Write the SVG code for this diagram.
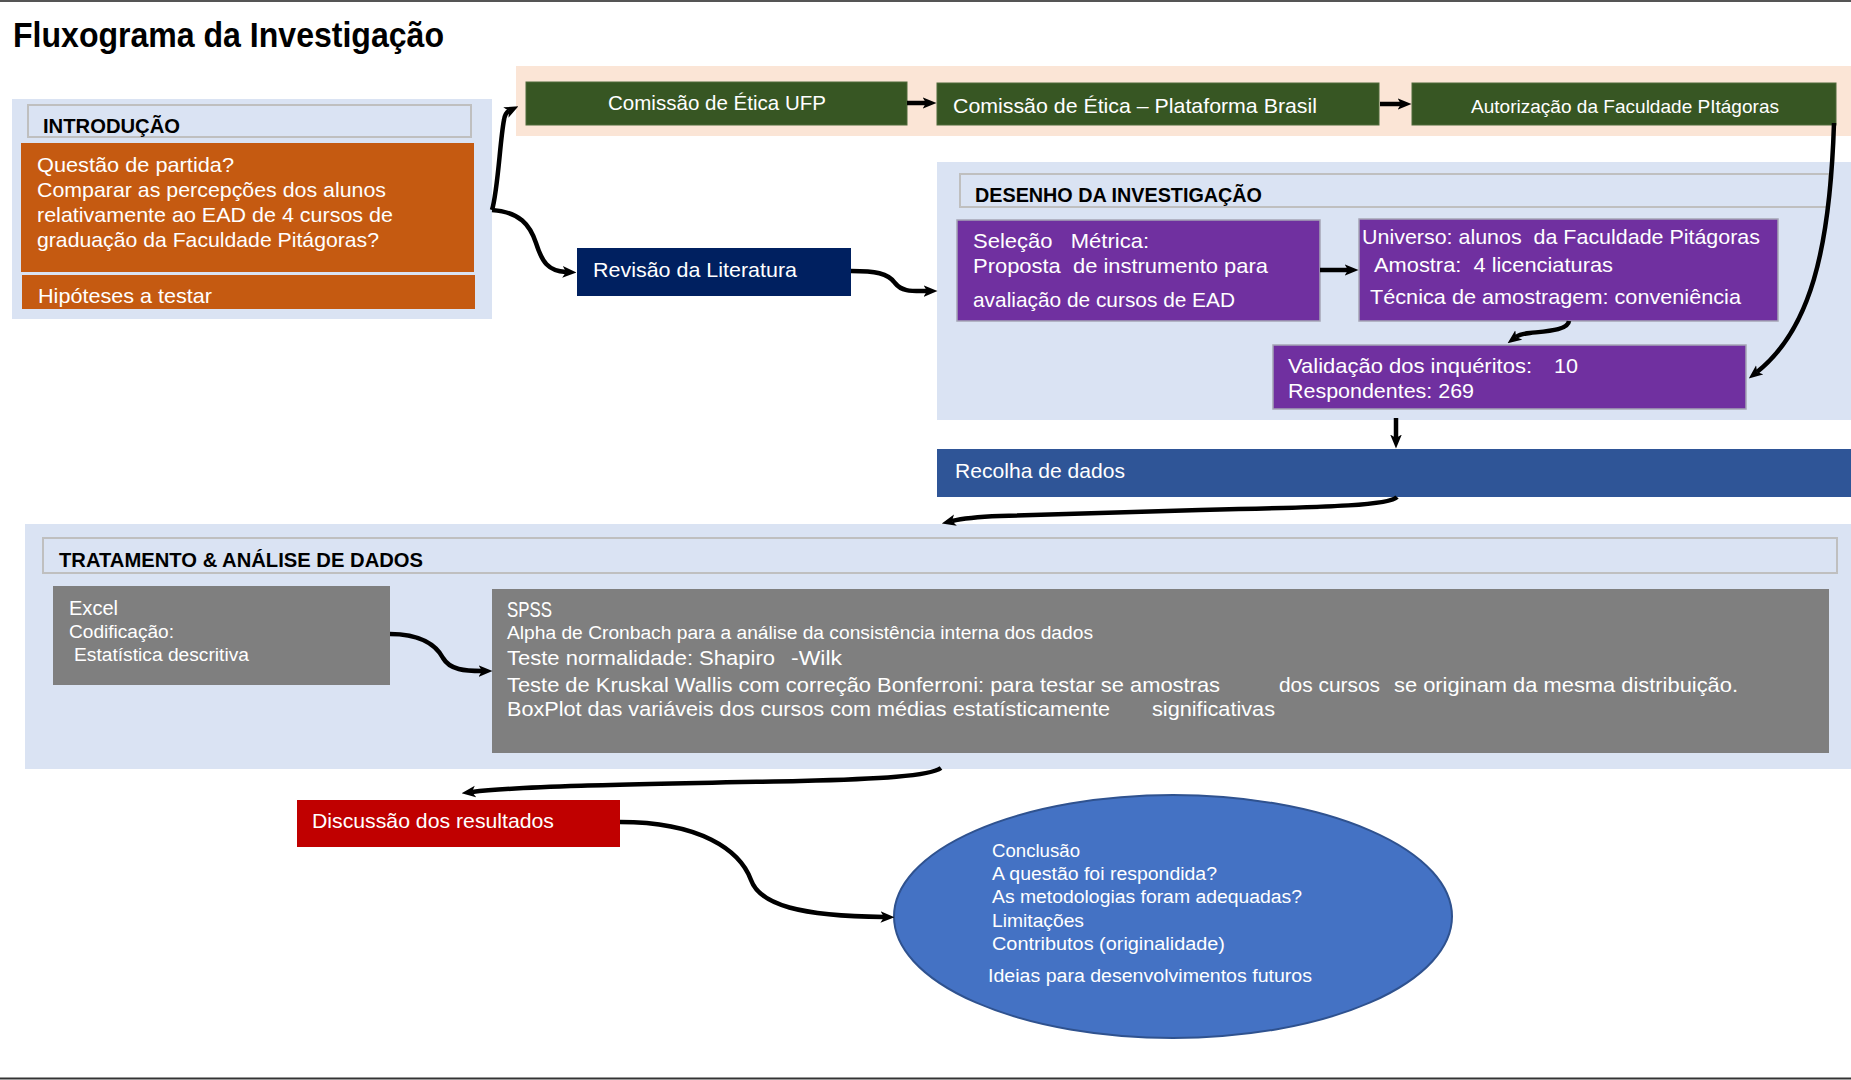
<svg xmlns="http://www.w3.org/2000/svg" width="1851" height="1080" viewBox="0 0 1851 1080">
<style>
text{font-family:"Liberation Sans",Arial,sans-serif;}
.w{fill:#ffffff;}
.k{fill:#000000;}
.b{font-weight:bold;}
.panel{fill:#DAE3F3;}
.hdr{fill:#DAE3F3;stroke:#BFBFBF;stroke-width:2;}
.org{fill:#C55A11;}
.grn{fill:#375623;stroke:#4E6B3A;stroke-width:1;}
.pur{fill:#7030A0;stroke:#A5A5B5;stroke-width:1.5;}
.gry{fill:#7F7F7F;}
.con{fill:none;stroke:#000;stroke-width:4.5;marker-end:url(#ah);}
</style>
<defs>
<marker id="ah" markerUnits="userSpaceOnUse" markerWidth="14" markerHeight="13" viewBox="0 0 12 10" refX="3" refY="5" orient="auto">
<path d="M0,0 L12,5 L0,10 L3,5 z" fill="#000"/>
</marker>
</defs>
<rect x="0" y="0" width="1851" height="1080" fill="#ffffff"/>
<line x1="0" y1="1" x2="1851" y2="1" stroke="#555555" stroke-width="2"/>
<line x1="0" y1="1078.5" x2="1851" y2="1078.5" stroke="#333333" stroke-width="2"/>

<text id="title" x="13" y="47" font-size="35" class="b k" textLength="431" lengthAdjust="spacingAndGlyphs">Fluxograma da Investigação</text>

<g id="introducao">
<rect class="panel" x="12" y="99" width="480" height="220"/>
<rect class="hdr" x="28" y="105" width="443" height="32"/>
<text x="43" y="133" font-size="20" class="b k" textLength="137" lengthAdjust="spacingAndGlyphs">INTRODUÇÃO</text>
</g>
<g id="questao">
<rect class="org" x="21" y="143" width="453" height="129"/>
<text x="37" y="172" font-size="21" class="w" textLength="197" lengthAdjust="spacingAndGlyphs">Questão de partida?</text>
<text x="37" y="197" font-size="21" class="w" textLength="349" lengthAdjust="spacingAndGlyphs">Comparar as percepções dos alunos</text>
<text x="37" y="222" font-size="21" class="w" textLength="356" lengthAdjust="spacingAndGlyphs">relativamente ao EAD de 4 cursos de</text>
<text x="37" y="247" font-size="21" class="w" textLength="342" lengthAdjust="spacingAndGlyphs">graduação da Faculdade Pitágoras?</text>
</g>
<g id="hipoteses">
<rect class="org" x="22" y="275" width="453" height="34"/>
<text x="38" y="303" font-size="21" class="w" textLength="174" lengthAdjust="spacingAndGlyphs">Hipóteses a testar</text>
</g>

<g id="etica-panel">
<rect x="516" y="66" width="1335" height="70" fill="#FBE5D6"/>
</g>
<g id="etica-ufp">
<rect class="grn" x="526" y="82" width="381" height="43"/>
<text x="608" y="110" font-size="21" class="w" textLength="218" lengthAdjust="spacingAndGlyphs">Comissão de Ética UFP</text>
</g>
<g id="etica-brasil">
<rect class="grn" x="937" y="83" width="442" height="42"/>
<text x="953" y="113" font-size="21" class="w" textLength="364" lengthAdjust="spacingAndGlyphs">Comissão de Ética – Plataforma Brasil</text>
</g>
<g id="autorizacao">
<rect class="grn" x="1412" y="83" width="424" height="42"/>
<text x="1471" y="113" font-size="19" class="w" textLength="308" lengthAdjust="spacingAndGlyphs">Autorização da Faculdade PItágoras</text>
</g>

<g id="revisao">
<rect x="577" y="248" width="274" height="48" fill="#002060"/>
<text x="593" y="277" font-size="21" class="w" textLength="204" lengthAdjust="spacingAndGlyphs">Revisão da Literatura</text>
</g>

<g id="desenho">
<rect class="panel" x="937" y="162" width="914" height="258"/>
<rect class="hdr" x="960" y="174" width="869" height="33"/>
<text x="975" y="202" font-size="20" class="b k" textLength="287" lengthAdjust="spacingAndGlyphs">DESENHO DA INVESTIGAÇÃO</text>
</g>
<g id="selecao">
<rect class="pur" x="957" y="220" width="363" height="101"/>
<text x="973" y="248" font-size="21" class="w" textLength="176" lengthAdjust="spacingAndGlyphs" xml:space="preserve">Seleção   Métrica:</text>
<text x="973" y="273" font-size="21" class="w" textLength="295" lengthAdjust="spacingAndGlyphs" xml:space="preserve">Proposta  de instrumento para</text>
<text x="973" y="307" font-size="21" class="w" textLength="262" lengthAdjust="spacingAndGlyphs">avaliação de cursos de EAD</text>
</g>
<g id="universo">
<rect class="pur" x="1359" y="219" width="419" height="102"/>
<text x="1362" y="244" font-size="21" class="w" textLength="398" lengthAdjust="spacingAndGlyphs" xml:space="preserve">Universo: alunos  da Faculdade Pitágoras</text>
<text x="1374" y="272" font-size="21" class="w" textLength="239" lengthAdjust="spacingAndGlyphs" xml:space="preserve">Amostra:  4 licenciaturas</text>
<text x="1370" y="304" font-size="21" class="w" textLength="371" lengthAdjust="spacingAndGlyphs">Técnica de amostragem: conveniência</text>
</g>
<g id="validacao">
<rect class="pur" x="1273" y="345" width="473" height="64"/>
<text x="1288" y="373" font-size="21" class="w" textLength="244" lengthAdjust="spacingAndGlyphs">Validação dos inquéritos:</text>
<text x="1554" y="373" font-size="21" class="w" textLength="24" lengthAdjust="spacingAndGlyphs">10</text>
<text x="1288" y="398" font-size="21" class="w" textLength="186" lengthAdjust="spacingAndGlyphs">Respondentes: 269</text>
</g>

<g id="recolha">
<rect x="937" y="449" width="914" height="48" fill="#2F5597"/>
<text x="955" y="478" font-size="21" class="w" textLength="170" lengthAdjust="spacingAndGlyphs">Recolha de dados</text>
</g>

<g id="tratamento">
<rect class="panel" x="25" y="524" width="1826" height="245"/>
<rect class="hdr" x="43" y="538" width="1794" height="35"/>
<text x="59" y="567" font-size="20" class="b k" textLength="364" lengthAdjust="spacingAndGlyphs">TRATAMENTO &amp; ANÁLISE DE DADOS</text>
</g>
<g id="excel">
<rect class="gry" x="53" y="586" width="337" height="99"/>
<text x="69" y="615" font-size="21" class="w" textLength="49" lengthAdjust="spacingAndGlyphs">Excel</text>
<text x="69" y="638" font-size="18" class="w" textLength="105" lengthAdjust="spacingAndGlyphs">Codificação:</text>
<text x="74" y="661" font-size="18" class="w" textLength="175" lengthAdjust="spacingAndGlyphs">Estatística descritiva</text>
</g>
<g id="spss">
<rect class="gry" x="492" y="589" width="1337" height="164"/>
<text x="507" y="617" font-size="22" class="w" textLength="45" lengthAdjust="spacingAndGlyphs">SPSS</text>
<text x="507" y="639" font-size="18" class="w" textLength="586" lengthAdjust="spacingAndGlyphs">Alpha de Cronbach para a análise da consistência interna dos dados</text>
<text x="507" y="665" font-size="21" class="w" textLength="268" lengthAdjust="spacingAndGlyphs">Teste normalidade: Shapiro</text>
<text x="791" y="665" font-size="21" class="w" textLength="51" lengthAdjust="spacingAndGlyphs">-Wilk</text>
<text x="507" y="692" font-size="21" class="w" textLength="713" lengthAdjust="spacingAndGlyphs">Teste de Kruskal Wallis com correção Bonferroni: para testar se amostras</text>
<text x="1279" y="692" font-size="21" class="w" textLength="101" lengthAdjust="spacingAndGlyphs">dos cursos</text>
<text x="1394" y="692" font-size="21" class="w" textLength="344" lengthAdjust="spacingAndGlyphs">se originam da mesma distribuição.</text>
<text x="507" y="716" font-size="21" class="w" textLength="603" lengthAdjust="spacingAndGlyphs">BoxPlot das variáveis dos cursos com médias estatísticamente</text>
<text x="1152" y="716" font-size="21" class="w" textLength="123" lengthAdjust="spacingAndGlyphs">significativas</text>
</g>

<g id="discussao">
<rect x="297" y="800" width="323" height="47" fill="#C00000"/>
<text x="312" y="828" font-size="21" class="w" textLength="242" lengthAdjust="spacingAndGlyphs">Discussão dos resultados</text>
</g>

<g id="conclusao">
<ellipse cx="1173" cy="916.5" rx="279" ry="121.5" fill="#4472C4" stroke="#2F528F" stroke-width="2"/>
<text x="992" y="857" font-size="18" class="w" textLength="88" lengthAdjust="spacingAndGlyphs">Conclusão</text>
<text x="992" y="880" font-size="18" class="w" textLength="225" lengthAdjust="spacingAndGlyphs">A questão foi respondida?</text>
<text x="992" y="903" font-size="18" class="w" textLength="310" lengthAdjust="spacingAndGlyphs">As metodologias foram adequadas?</text>
<text x="992" y="927" font-size="18" class="w" textLength="92" lengthAdjust="spacingAndGlyphs">Limitações</text>
<text x="992" y="950" font-size="18" class="w" textLength="233" lengthAdjust="spacingAndGlyphs">Contributos (originalidade)</text>
<text x="988" y="982" font-size="18" class="w" textLength="324" lengthAdjust="spacingAndGlyphs">Ideias para desenvolvimentos futuros</text>
</g>

<g id="connectors">
<path class="con" d="M492,210 C498,190 500,140 504,120 Q505,113 509,111"/>
<path class="con" d="M492,210 C520,212 530,225 536,243 C542,262 548,271 566,272"/>
<path class="con" d="M851,271 C875,271 888,273 895,283 C902,292 912,291 927,291"/>
<path class="con" d="M907,103 L926,103"/>
<path class="con" d="M1380,104 L1401,104"/>
<path class="con" d="M1320,270 L1348,270"/>
<path class="con" d="M1569,321 C1568,330 1548,331 1530,333 Q1520,334 1516,337"/>
<path class="con" d="M1834,123 C1830,250 1810,330 1757,372"/>
<path class="con" d="M1396,418 L1396,438"/>
<path class="con" d="M1397,497 C1390,505 1340,507 1200,510 L1000,516 C975,517 960,519 952,521"/>
<path class="con" d="M390,634 C420,634 436,645 443,658 C450,670 465,671 482,671"/>
<path class="con" d="M941,768 C930,776 880,779 800,781 C650,784 520,786 472,792"/>
<path class="con" d="M620,822 C700,822 740,850 751,880 C760,905 800,916 884,917"/>
</g>
</svg>
